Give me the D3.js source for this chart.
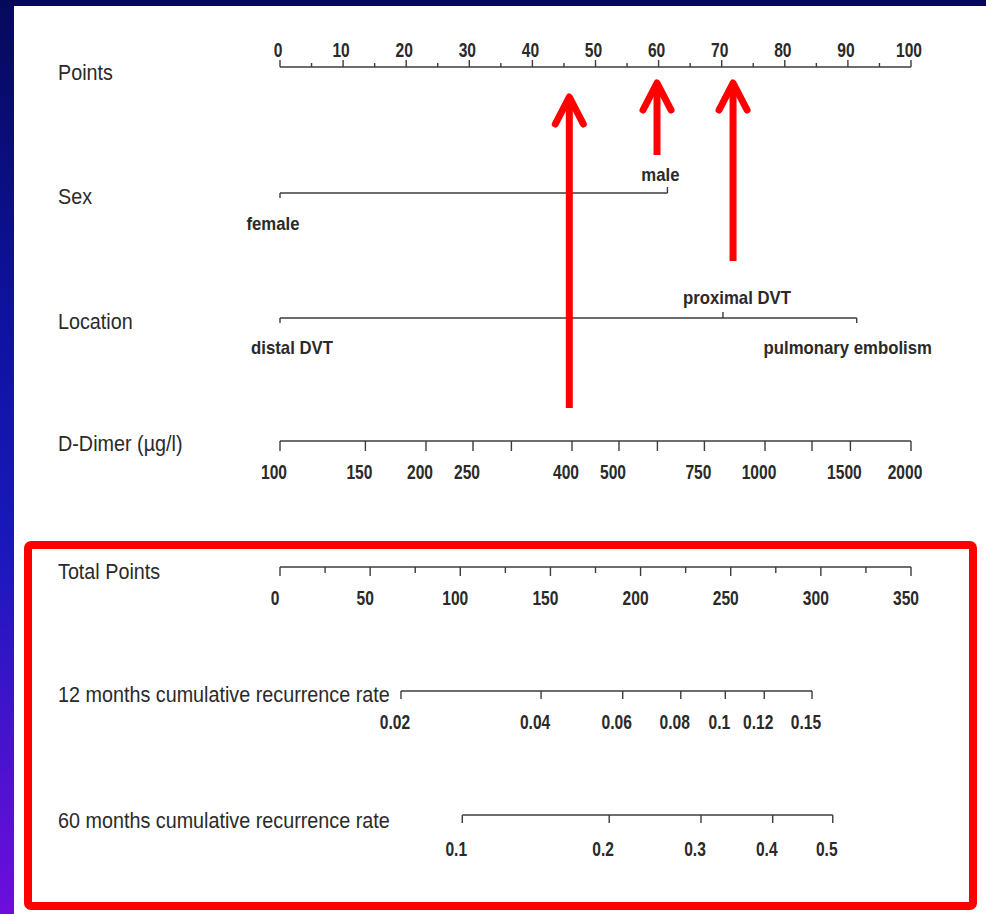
<!DOCTYPE html>
<html>
<head>
<meta charset="utf-8">
<script src="https://cdn.jsdelivr.net/npm/d3@7"></script>
<style>
	body { margin: 0; background: #fff; }
	svg { display: block; }
</style>
</head>
<body>
<div id="chart"></div>
<script>
// ---- data ----
const pointsTicks = d3.range(0, 101, 10)
const pointsMinor = d3.range(5, 100, 10)

const sexLevels = ['female', 'male']
const sexPoints = [0, 61.4]

const locationLevels = ['distal DVT', 'proximal DVT', 'pulmonary embolism']
const locationPoints = [0, 70.2, 91.4]

const dimerDomain = [100, 2000]
const dimerTicks = [100, 150, 200, 250, 300, 400, 500, 600, 750, 1000, 1250, 1500, 2000]
const dimerLabels = [100, 150, 200, 250, 400, 500, 750, 1000, 1500, 2000]

const totalTicks = d3.range(0, 351, 25)
const totalLabels = d3.range(0, 351, 50)

// cumulative recurrence rate and the total points where each tick sits
const rate12 = [0.02, 0.04, 0.06, 0.08, 0.1, 0.12, 0.15]
const rate12Total = [67.1, 144.8, 190.1, 222.3, 247.0, 268.6, 295.1]
const rate60 = [0.1, 0.2, 0.3, 0.4, 0.5]
const rate60Total = [101.1, 182.6, 233.5, 273.3, 306.6]

// red arrows, position in points
const arrowPoints = [45.85, 59.75, 71.8]

// ---- layout ----
const width = 986
const height = 914
const x0 = 280
const x1 = 911
const rowY = { points: 67, sex: 193, location: 318, dimer: 441, total: 567, r12: 691, r60: 815 }
const nameX = 58
const labelShift = -6 // tick labels sit a bit left of their ticks on the slide
const axisColor = '#3c3c3c'
const textColor = '#2a2a2a'

const svg = d3.select('#chart')
	.append('svg')
	.attr('width', width)
	.attr('height', height)

// slide background
const grad = svg.append('defs').append('linearGradient')
	.attr('id', 'side')
	.attr('x1', 0).attr('y1', 0).attr('x2', 0).attr('y2', 1)
grad.selectAll('stop')
	.data([[0, '#06095a'], [0.35, '#0f12a0'], [0.6, '#1a18bc'], [1, '#6e0edc']])
	.enter().append('stop')
	.attr('offset', d => d[0])
	.attr('stop-color', d => d[1])

svg.append('rect').attr('width', width).attr('height', height).attr('fill', '#06095a')
svg.append('rect').attr('width', 14).attr('height', height).attr('fill', 'url(#side)')
svg.append('rect').attr('x', 14).attr('y', 6).attr('width', width - 14).attr('height', height - 6).attr('fill', '#fff')

// scales
const xPoints = d3.scaleLinear().domain([0, 100]).range([x0, x1])
const xTotal = d3.scaleLinear().domain([0, 350]).range([x0, x1])
const xDimer = d3.scaleLog().domain(dimerDomain).range([x0, x1])

const g = svg.append('g')

// text helper, the slide text is a little squeezed sideways
function txt(x, y, str, { size = 18, weight = 'normal', anchor = 'middle', sx = 1, fill = textColor } = {}) {
	g.append('text')
		.attr('transform', `translate(${x},${y}) scale(${sx},1)`)
		.attr('text-anchor', anchor)
		.attr('font-family', '"Liberation Sans", Arial, sans-serif')
		.attr('font-size', size)
		.attr('font-weight', weight)
		.attr('fill', fill)
		.text(str)
}
const tickFont = { size: 20, weight: 'bold', sx: 0.78 }
const levelFont = { size: 18, weight: 'bold', sx: 0.93 }
const nameFont = { size: 21.5, anchor: 'start', sx: 0.92 }

function hline(xa, xb, y) {
	g.append('line')
		.attr('x1', xa).attr('x2', xb)
		.attr('y1', y).attr('y2', y)
		.attr('stroke', axisColor).attr('stroke-width', 1.6)
}
function ticks(xs, y, len) {
	g.append('g').selectAll('line')
		.data(xs)
		.enter().append('line')
		.attr('x1', d => d).attr('x2', d => d)
		.attr('y1', y).attr('y2', y + len)
		.attr('stroke', axisColor).attr('stroke-width', 1.4)
}

// Points
txt(nameX, rowY.points + 13, 'Points', nameFont)
hline(x0, x1, rowY.points)
ticks(pointsTicks.map(xPoints), rowY.points, -7)
ticks(pointsMinor.map(xPoints), rowY.points, -4)
pointsTicks.forEach(d => txt(xPoints(d) - 2, rowY.points - 10, d, tickFont))

// Sex
txt(nameX, rowY.sex + 11, 'Sex', nameFont)
hline(xPoints(d3.min(sexPoints)), xPoints(d3.max(sexPoints)), rowY.sex)
sexLevels.forEach((lev, i) => {
	const up = i % 2 === 1
	const x = xPoints(sexPoints[i])
	ticks([x], rowY.sex, up ? -6 : 5)
	txt(x - 7, up ? rowY.sex - 12 : rowY.sex + 37, lev, levelFont)
})

// Location
txt(nameX, rowY.location + 11, 'Location', nameFont)
hline(xPoints(d3.min(locationPoints)), xPoints(d3.max(locationPoints)), rowY.location)
locationLevels.forEach((lev, i) => {
	const up = i % 2 === 1
	const x = xPoints(locationPoints[i])
	ticks([x], rowY.location, up ? -6 : 5)
	const nudge = [12, 14, -9][i]
	txt(x + nudge, up ? rowY.location - 14 : rowY.location + 36, lev, levelFont)
})

// D-Dimer
txt(nameX, rowY.dimer + 10, 'D-Dimer (\u00b5g/l)', nameFont)
hline(x0, x1, rowY.dimer)
ticks(dimerTicks.map(xDimer), rowY.dimer, 10)
dimerLabels.forEach(d => txt(xDimer(d) + labelShift, rowY.dimer + 38, d, tickFont))

// Total Points
txt(nameX, rowY.total + 12, 'Total Points', nameFont)
hline(x0, x1, rowY.total)
ticks(totalTicks.filter(d => d % 50 !== 0).map(xTotal), rowY.total, 6)
ticks(totalLabels.map(xTotal), rowY.total, 9)
totalLabels.forEach(d => txt(xTotal(d) + labelShift + 1, rowY.total + 38, d, tickFont))

// 12 months
txt(nameX, rowY.r12 + 11, '12 months cumulative recurrence rate', nameFont)
hline(xTotal(d3.min(rate12Total)), xTotal(d3.max(rate12Total)), rowY.r12)
ticks(rate12Total.map(xTotal), rowY.r12, 8)
rate12.forEach((d, i) => txt(xTotal(rate12Total[i]) + labelShift, rowY.r12 + 38, d, tickFont))

// 60 months
txt(nameX, rowY.r60 + 13, '60 months cumulative recurrence rate', nameFont)
hline(xTotal(d3.min(rate60Total)), xTotal(d3.max(rate60Total)), rowY.r60)
ticks(rate60Total.map(xTotal), rowY.r60, 8)
rate60.forEach((d, i) => txt(xTotal(rate60Total[i]) + labelShift, rowY.r60 + 41, d, tickFont))

// red annotation: arrows and frame
const arrowSpans = [[408, 97], [155, 83], [261, 83]]
const red = '#ff0000'
const arrows = svg.append('g')
	.attr('fill', 'none')
	.attr('stroke', red)
	.attr('stroke-width', 7)
	.attr('stroke-linejoin', 'round')
arrowPoints.forEach((p, i) => {
	const x = xPoints(p)
	const [yb, yt] = arrowSpans[i]
	arrows.append('path')
		.attr('d', `M${x},${yb}V${yt + 2}`)
	arrows.append('path')
		.attr('d', `M${x - 14},${yt + 27}L${x},${yt}L${x + 14},${yt + 27}`)
		.attr('stroke-linecap', 'round')
})

svg.append('rect')
	.attr('x', 28).attr('y', 545)
	.attr('width', 945).attr('height', 361)
	.attr('rx', 3)
	.attr('fill', 'none')
	.attr('stroke', red)
	.attr('stroke-width', 8)
</script>
</body>
</html>
